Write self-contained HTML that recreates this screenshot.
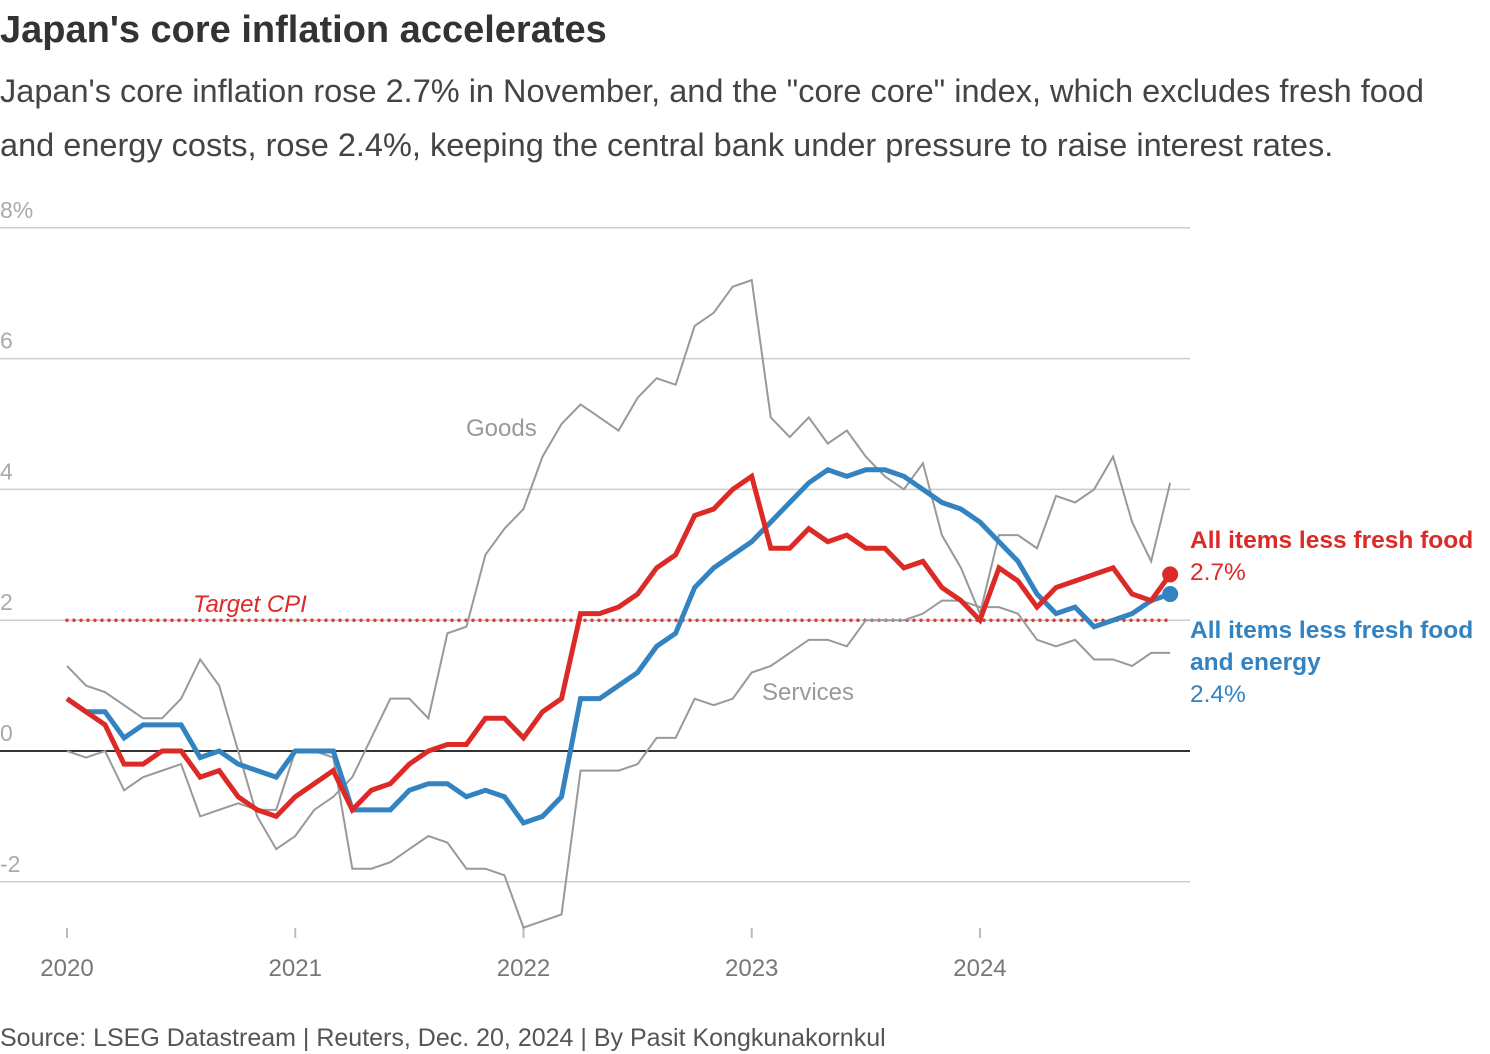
<!DOCTYPE html>
<html><head><meta charset="utf-8"><style>
body{margin:0;width:1490px;height:1054px;background:#fff;font-family:"Liberation Sans",sans-serif;overflow:hidden;position:relative}
.t{position:absolute;white-space:nowrap}
</style></head><body>
<div class="t" style="left:0;top:9px;font-size:38px;font-weight:bold;color:#333">Japan's core inflation accelerates</div>
<div class="t" style="left:0;top:64px;font-size:32.5px;line-height:54px;color:#444">Japan's core inflation rose 2.7% in November, and the "core core" index, which excludes fresh food<br>and energy costs, rose 2.4%, keeping the central bank under pressure to raise interest rates.</div>
<svg id="chart" width="1490" height="1054" style="position:absolute;left:0;top:0" xmlns="http://www.w3.org/2000/svg"></svg>
<div class="t" style="left:0;top:1024px;font-size:25px;color:#555">Source: LSEG Datastream | Reuters, Dec. 20, 2024 | By Pasit Kongkunakornkul</div>
<script>
const yTicks=[8,6,4,2,0,-2];
const yTickLabels=["8%","6","4","2","0","-2"];
const years=["2020","2021","2022","2023","2024"];
const core=[0.8,0.6,0.4,-0.2,-0.2,0,0,-0.4,-0.3,-0.7,-0.9,-1.0,-0.7,-0.5,-0.3,-0.9,-0.6,-0.5,-0.2,0,0.1,0.1,0.5,0.5,0.2,0.6,0.8,2.1,2.1,2.2,2.4,2.8,3.0,3.6,3.7,4.0,4.2,3.1,3.1,3.4,3.2,3.3,3.1,3.1,2.8,2.9,2.5,2.3,2.0,2.8,2.6,2.2,2.5,2.6,2.7,2.8,2.4,2.3,2.7];
const coreCore=[0.8,0.6,0.6,0.2,0.4,0.4,0.4,-0.1,0,-0.2,-0.3,-0.4,0,0,0,-0.9,-0.9,-0.9,-0.6,-0.5,-0.5,-0.7,-0.6,-0.7,-1.1,-1.0,-0.7,0.8,0.8,1.0,1.2,1.6,1.8,2.5,2.8,3.0,3.2,3.5,3.8,4.1,4.3,4.2,4.3,4.3,4.2,4.0,3.8,3.7,3.5,3.2,2.9,2.4,2.1,2.2,1.9,2.0,2.1,2.3,2.4];
const goods=[1.3,1.0,0.9,0.7,0.5,0.5,0.8,1.4,1.0,0.0,-1.0,-1.5,-1.3,-0.9,-0.7,-0.4,0.2,0.8,0.8,0.5,1.8,1.9,3.0,3.4,3.7,4.5,5.0,5.3,5.1,4.9,5.4,5.7,5.6,6.5,6.7,7.1,7.2,5.1,4.8,5.1,4.7,4.9,4.5,4.2,4.0,4.4,3.3,2.8,2.1,3.3,3.3,3.1,3.9,3.8,4.0,4.5,3.5,2.9,4.1];
const services=[0,-0.1,0,-0.6,-0.4,-0.3,-0.2,-1.0,-0.9,-0.8,-0.9,-0.9,0,0,-0.1,-1.8,-1.8,-1.7,-1.5,-1.3,-1.4,-1.8,-1.8,-1.9,-2.7,-2.6,-2.5,-0.3,-0.3,-0.3,-0.2,0.2,0.2,0.8,0.7,0.8,1.2,1.3,1.5,1.7,1.7,1.6,2.0,2.0,2.0,2.1,2.3,2.3,2.2,2.2,2.1,1.7,1.6,1.7,1.4,1.4,1.3,1.5,1.5];
const target=2;
const X=i=>67+i*19.02;
const Y=v=>751-v*65.4;
const svg=document.getElementById('chart');
const NS='http://www.w3.org/2000/svg';
function mk(tag,attrs){const e=document.createElementNS(NS,tag);for(const k in attrs)e.setAttribute(k,attrs[k]);svg.appendChild(e);return e;}
yTicks.forEach((v,k)=>{
  const l=mk('line',{x1:0,x2:1190,y1:Y(v),y2:Y(v),stroke:v===0?'#333':'#ccc','stroke-width':v===0?2:1.5});
  
  
  const t=mk('text',{x:0,y:Y(v)-10,'font-size':23,fill:'#aaa'});t.textContent=yTickLabels[k];
  
  
});
years.forEach((y,k)=>{
  const l=mk('line',{x1:X(k*12),x2:X(k*12),y1:928,y2:938,stroke:'#bbb','stroke-width':2});
  
  
  const t=mk('text',{x:X(k*12),y:976,'font-size':24,fill:'#777','text-anchor':'middle'});t.textContent=y;
  
  
});
const tl=mk('line',{x1:X(0),x2:X(58),y1:Y(target),y2:Y(target),stroke:'#e03a2f','stroke-width':3.5,'stroke-dasharray':'0 7','stroke-linecap':'round'});


function path(arr,color,w,name){
  const p=mk('polyline',{points:arr.map((v,i)=>X(i)+','+Y(v)).join(' '),fill:'none',stroke:color,'stroke-width':w,'stroke-linejoin':'miter'});
  
  
}
path(goods,'#999',2,'goods-line');
path(services,'#999',2,'services-line');
path(coreCore,'#3383c1',5,'core-core-line');
path(core,'#dc2b27',5,'core-line');
const d1=mk('circle',{cx:X(58),cy:Y(core[58]),r:8,fill:'#dc2b27'});


const d2=mk('circle',{cx:X(58),cy:Y(coreCore[58]),r:8,fill:'#3383c1'});


function txt(x,y,s,attrs,name){const t=mk('text',Object.assign({x:x,y:y},attrs));t.textContent=s;
  
  }
txt(466,436,'Goods',{'font-size':24,fill:'#999'},'goods-label');
txt(762,700,'Services',{'font-size':24,fill:'#999'},'services-label');
txt(193,612,'Target CPI',{'font-size':24,fill:'#dc2b27','font-style':'italic'},'target-cpi-label');
txt(1190,548,'All items less fresh food',{'font-size':24.5,fill:'#dc2b27','font-weight':'bold'},'core-legend-label');
txt(1190,580,'2.7%',{'font-size':24.5,fill:'#dc2b27'},'core-value-label');
txt(1190,638,'All items less fresh food',{'font-size':24.5,fill:'#3383c1','font-weight':'bold'},'core-core-legend-label');
txt(1190,670,'and energy',{'font-size':24.5,fill:'#3383c1','font-weight':'bold'},'core-core-legend-label-2');
txt(1190,702,'2.4%',{'font-size':24.5,fill:'#3383c1'},'core-core-value-label');
</script>
</body></html>
